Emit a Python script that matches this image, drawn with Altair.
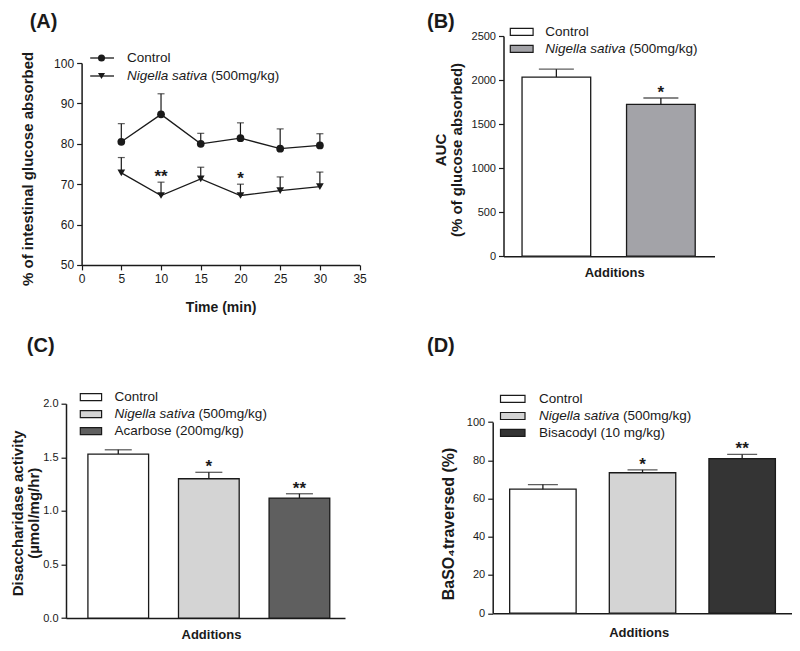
import altair as alt
import pandas as pd

# ---------------- data ----------------
PANEL_LABELS = ["(A)", "(B)", "(C)", "(D)"]
ITALIC_PART = "Nigella sativa"

# (A) intestinal glucose absorption over time
A_TIME = [5, 10, 15, 20, 25, 30]
A_SERIES = ["Control", "Nigella sativa (500mg/kg)"]
A_CONTROL_MEAN = [80.5, 87.3, 80.0, 81.4, 78.8, 79.6]
A_CONTROL_SEM = [4.5, 5.1, 2.6, 3.8, 4.9, 2.9]
A_NIGELLA_MEAN = [72.8, 67.2, 71.3, 67.2, 68.4, 69.4]
A_NIGELLA_SEM = [3.8, 3.3, 2.9, 2.8, 3.4, 3.6]
A_NIGELLA_SIG = ["", "**", "", "*", "", ""]
A_X_TICKS = [0, 5, 10, 15, 20, 25, 30, 35]
A_Y_TICKS = [50, 60, 70, 80, 90, 100]
A_X_TITLE = "Time (min)"
A_Y_TITLE = "% of intestinal glucose absorbed"

# (B) AUC
B_GROUPS = ["Control", "Nigella sativa (500mg/kg)"]
B_MEAN = [2034, 1723]
B_SEM = [89, 73]
B_SIG = ["", "*"]
B_Y_TICKS = [0, 500, 1000, 1500, 2000, 2500]
B_Y_TITLE = ["AUC", "(% of glucose absorbed)"]

# (C) disaccharidase activity
C_GROUPS = ["Control", "Nigella sativa (500mg/kg)", "Acarbose (200mg/kg)"]
C_MEAN = [1.53, 1.30, 1.12]
C_SEM = [0.04, 0.06, 0.04]
C_SIG = ["", "*", "**"]
C_Y_TICKS = [0.0, 0.5, 1.0, 1.5, 2.0]
C_Y_TITLE = ["Disaccharidase activity", "(µmol/mg/hr)"]

# (D) BaSO4 traversed
D_GROUPS = ["Control", "Nigella sativa (500mg/kg)", "Bisacodyl (10 mg/kg)"]
D_MEAN = [64.9, 73.5, 80.9]
D_SEM = [2.4, 1.5, 2.2]
D_SIG = ["", "*", "**"]
D_Y_TICKS = [0, 20, 40, 60, 80, 100]
D_Y_TITLE = "BaSO₄traversed (%)"

BAR_X_TITLE = "Additions"

# ---------------- styles ----------------
FONT = "Liberation Sans"
INK = "#1a1a1a"
B_COLORS = ["#ffffff", "#a3a3a8"]
C_COLORS = ["#ffffff", "#d4d4d4", "#5f5f5f"]
D_COLORS = ["#ffffff", "#d4d4d4", "#343434"]
LEGEND_SIZE = 13.5
ITALIC_W = 84  # width of "Nigella sativa " at LEGEND_SIZE
TITLE_SIZE = 15

# grid cell sizes (every cell of a column/row has the same size; the plot
# rectangles are placed inside the cells through the scale ranges)
COL_W = [293.6, 299]
ROW_H = [228.9, 214.4]
SPACING = {"row": 138.7, "column": 132.7}


def single(**kw):
    return pd.DataFrame([kw])


def text_layer(text, x, y, size, weight="normal", style="normal",
               align="left", baseline="middle"):
    return alt.Chart(single(t=text)).mark_text(
        align=align, baseline=baseline, font=FONT, fontSize=size,
        fontWeight=weight, fontStyle=style, color=INK
    ).encode(x=alt.value(x), y=alt.value(y), text="t:N")


def label_layers(label, x, y, size=LEGEND_SIZE, italic_w=ITALIC_W):
    if label.startswith(ITALIC_PART):
        rest = label[len(ITALIC_PART):].strip()
        return [text_layer(ITALIC_PART, x, y, size, style="italic"),
                text_layer(rest, x + italic_w, y, size)]
    return [text_layer(label, x, y, size)]


def y_axis(values, fmt, title, tx, ty, offset, label_size=11,
           title_size=TITLE_SIZE, line_h=16):
    return alt.Axis(
        values=values, format=fmt, title=title, titleX=tx, titleY=ty,
        titleAngle=270, titleAlign="center", titleBaseline="middle",
        titleFont=FONT, titleFontSize=title_size, titleFontWeight="bold",
        titleColor=INK, titleLineHeight=line_h, offset=offset,
        labelFont=FONT, labelFontSize=label_size, labelColor=INK,
        labelPadding=3, labelFlush=False, tickSize=5, tickWidth=1.2,
        tickColor=INK, domainColor=INK, domainWidth=1.5, grid=False)


def bar_x_axis(tx, ty, offset):
    return alt.Axis(
        title=BAR_X_TITLE, titleX=tx, titleY=ty, titleAlign="center",
        titleBaseline="middle", titleFont=FONT, titleFontSize=13,
        titleFontWeight="bold", titleColor=INK, labels=False, ticks=False,
        offset=offset, domainColor=INK, domainWidth=1.5, grid=False)


# ---------------- panel A ----------------
def panel_a(vw, vh, px0, px1, py0, py1):
    rows = []
    for s, means, sems, sigs in [
        (A_SERIES[0], A_CONTROL_MEAN, A_CONTROL_SEM, [""] * len(A_TIME)),
        (A_SERIES[1], A_NIGELLA_MEAN, A_NIGELLA_SEM, A_NIGELLA_SIG),
    ]:
        for t, m, e, g in zip(A_TIME, means, sems, sigs):
            rows.append({"series": s, "time": t, "mean": m, "upper": m + e, "sig": g})
    df = pd.DataFrame(rows)
    base = alt.Chart(df)

    x_ax = alt.Axis(
        values=A_X_TICKS, format="d", title=A_X_TITLE, titleX=px0 + 139, titleY=43,
        titleAlign="center", titleBaseline="middle", titleFont=FONT,
        titleFontSize=14, titleFontWeight="bold", titleColor=INK,
        labelFont=FONT, labelFontSize=12, labelColor=INK, labelPadding=4,
        labelFlush=False, tickSize=5, tickWidth=1.2, tickColor=INK,
        offset=py1 - vh, domainColor=INK, domainWidth=1.5, grid=False)
    y_ax = y_axis(A_Y_TICKS, "d", A_Y_TITLE, -53.9, py0 + 105.3, -px0, label_size=12)
    xs = alt.Scale(domain=[0, 35], nice=False, range=[px0, px1])
    ys = alt.Scale(domain=[50, 100], nice=False, zero=False, range=[py1, py0])
    x = alt.X("time:Q", scale=xs, axis=x_ax)
    y = alt.Y("mean:Q", scale=ys, axis=y_ax)
    yu = alt.Y("upper:Q", scale=ys, axis=y_ax)

    layers = [
        base.mark_line(color=INK, strokeWidth=1.3).encode(x=x, y=y, detail="series:N"),
        base.mark_rule(color=INK, strokeWidth=1.2).encode(x=x, y=y, y2="upper:Q"),
        base.mark_tick(color=INK, thickness=1.2, size=7, orient="horizontal").encode(x=x, y=yu),
        base.mark_point(filled=True, opacity=1, color=INK, size=60).encode(
            x=x, y=y,
            shape=alt.Shape("series:N", scale=alt.Scale(domain=A_SERIES, range=["circle", "triangle-down"]), legend=None)),
        base.mark_text(font=FONT, fontSize=17, fontWeight="bold", baseline="alphabetic", color=INK).encode(
            x=x, y=yu, text="sig:N"),
    ]
    shapes = ["circle", "triangle-down"]
    for i, s in enumerate(A_SERIES):
        yc = py0 + [-5.1, 12.9][i]
        layers.append(alt.Chart(single(s=s)).mark_rule(color=INK, strokeWidth=1.3).encode(
            x=alt.value(px0 + 8.6), x2=alt.value(px0 + 32.4), y=alt.value(yc)))
        layers.append(alt.Chart(single(s=s)).mark_point(filled=True, opacity=1, color=INK, size=50, shape=shapes[i]).encode(
            x=alt.value(px0 + 19.9), y=alt.value(yc)))
        layers += label_layers(s, px0 + 45.4, yc)
    layers.append(text_layer(PANEL_LABELS[0], px0 - 51.9, py0 - 51.3, 20, weight="bold", baseline="top"))
    return alt.layer(*layers).properties(width=vw, height=vh)


# ---------------- bar panels ----------------
def bar_panel(groups, means, sems, sigs, colors, y_ticks, y_fmt, y_domain,
              y_title, y_tx, y_ty, line_h, x_tx, x_ty, view, band, cap,
              box_x, legend_y, text_x, label, label_xy, title_size=TITLE_SIZE):
    vw, vh, px0, px1, py0, py1 = view
    df = pd.DataFrame({
        "group": groups, "mean": means,
        "upper": [m + e for m, e in zip(means, sems)], "sig": sigs})
    base = alt.Chart(df)
    xs = alt.Scale(paddingInner=band[0], paddingOuter=band[1], align=band[2], range=[px0, px1])
    ys = alt.Scale(domain=y_domain, nice=False, range=[py1, py0])
    x = alt.X("group:N", sort=groups, scale=xs, axis=bar_x_axis(px0 + x_tx, x_ty, py1 - vh))
    y_ax = y_axis(y_ticks, y_fmt, y_title, y_tx, py0 + y_ty, -px0,
                  title_size=title_size, line_h=line_h)
    y = alt.Y("mean:Q", scale=ys, axis=y_ax)
    yu = alt.Y("upper:Q", scale=ys, axis=y_ax)
    layers = [
        base.mark_bar(stroke=INK, strokeWidth=1.3).encode(
            x=x, y=y,
            color=alt.Color("group:N", scale=alt.Scale(domain=groups, range=colors), legend=None)),
        base.mark_rule(color=INK, strokeWidth=1.3).encode(x=x, y=y, y2="upper:Q"),
        base.mark_tick(color=INK, thickness=1.3, size=cap, orient="horizontal").encode(x=x, y=yu),
        base.mark_text(font=FONT, fontSize=17, fontWeight="bold", baseline="alphabetic", color=INK).encode(
            x=x, y=yu, text="sig:N"),
    ]
    for i, g in enumerate(groups):
        yc = py0 + legend_y[i]
        layers.append(alt.Chart(single(g=g)).mark_rect(fill=colors[i], stroke=INK, strokeWidth=1.2).encode(
            x=alt.value(px0 + box_x[0]), x2=alt.value(px0 + box_x[1]),
            y=alt.value(yc - 3.5), y2=alt.value(yc + 3.5)))
        layers += label_layers(g, px0 + text_x, yc)
    layers.append(text_layer(label, px0 + label_xy[0], py0 + label_xy[1], 20,
                             weight="bold", baseline="top"))
    return alt.layer(*layers).properties(width=vw, height=vh)


chart_a = panel_a(COL_W[0], ROW_H[0], 15.6, 293.6, 27.1, 228.9)
chart_b = bar_panel(B_GROUPS, B_MEAN, B_SEM, B_SIG, B_COLORS, B_Y_TICKS, "d", [0, 2500],
                    B_Y_TITLE, -62.8, 113.5, 15.7, 110.7, 16.4,
                    (COL_W[1], ROW_H[0], 10.8, 221.8, 0, 220.2),
                    (0.343, 0.181, 0.49), 35, (6.8, 29.6), [-4.2, 12.8], 41.8,
                    PANEL_LABELS[1], (-76.5, -24.2))
chart_c = bar_panel(C_GROUPS, C_MEAN, C_SEM, C_SIG, C_COLORS, C_Y_TICKS, ".1f", [0, 2],
                    C_Y_TITLE, -48.9, 109.1, 16.7, 145, 16.5,
                    (COL_W[0], ROW_H[1], 0, 279, 0, 214.4),
                    (0.33, 0.205, 0.59), 27, (14.3, 35.6), [-6.5, 10.4, 27.4], 48.6,
                    PANEL_LABELS[2], (-39.2, -67.9))
chart_d = bar_panel(D_GROUPS, D_MEAN, D_SEM, D_SIG, D_COLORS, D_Y_TICKS, "d", [0, 100],
                    D_Y_TITLE, -44.1, 101.4, 16, 146, 19.4,
                    (COL_W[1], ROW_H[1], 0, 299, 18.4, 209.5),
                    (0.333, 0.167, 0.51), 30, (7.8, 32.3), [-23.3, -6.1, 10.7], 46.3,
                    PANEL_LABELS[3], (-65.7, -86.3), title_size=16)

chart = alt.concat(
    chart_a, chart_b, chart_c, chart_d,
    columns=2, bounds="flush", spacing=SPACING,
).resolve_scale(color="independent", shape="independent").properties(
    padding={"left": 2, "top": 3, "right": 0, "bottom": 0}, background="white"
).configure_view(stroke=None)

chart.save("out.html", embed_options={"renderer": "svg", "actions": False})
